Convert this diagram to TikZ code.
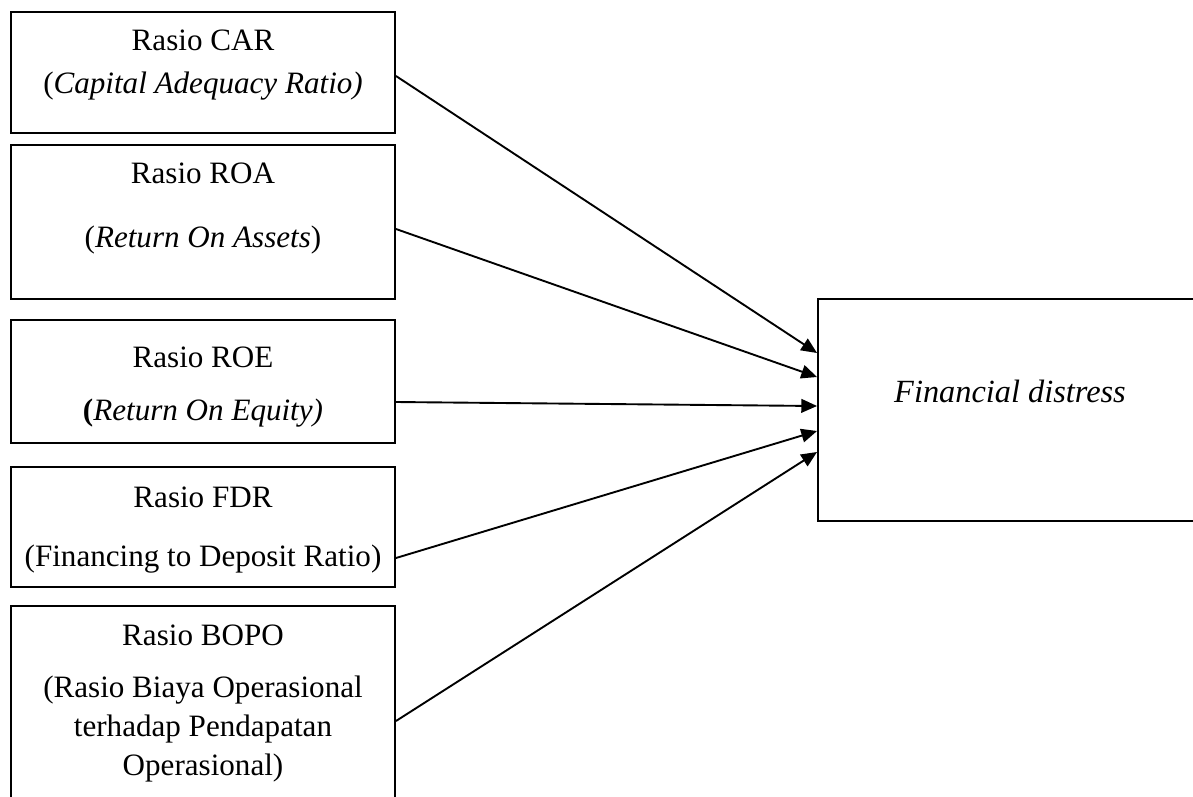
\documentclass[tikz,border=0pt]{standalone}
\usepackage{fontspec}
\setmainfont{Liberation Serif}
\usetikzlibrary{arrows.meta}

\tikzset{
    ratiobox/.style={draw, line width=0.9pt, minimum width=182.8pt, inner sep=0pt},
    lbl/.style={align=center, inner sep=0pt, font=\fontsize{14.8}{18.6}\selectfont},
    link/.style={line width=0.9pt, -{Triangle[length=7.5pt,width=6.5pt]}}
}

\begin{document}
\begin{tikzpicture}[x=0.476pt, y=-0.476pt]
    \clip (0,0) rectangle (1193,796);

    % independent variables
    \node[ratiobox, minimum height=57.6pt] (car) at (203,72.5) {};
    \node[lbl] (car-name) at (203,40) {Rasio CAR};
    \node[lbl] (car-full) at (203,86) {(\textit{Capital Adequacy Ratio)}};

    \node[ratiobox, minimum height=73.3pt] (roa) at (203,222) {};
    \node[lbl] (roa-name) at (203,173) {Rasio ROA};
    \node[lbl] (roa-full) at (203,240) {(\textit{Return On Assets})};

    \node[ratiobox, minimum height=58.5pt] (roe) at (203,381.5) {};
    \node[lbl] (roe-name) at (203,357) {Rasio ROE};
    \node[lbl] (roe-full) at (203,413) {\textbf{(}\textit{Return On Equity)}};

    \node[ratiobox, minimum height=57.1pt] (fdr) at (203,527) {};
    \node[lbl] (fdr-name) at (203,497) {Rasio FDR};
    \node[lbl] (fdr-full) at (203,559) {(Financing to Deposit Ratio)};

    \node[ratiobox, minimum height=106.6pt] (bopo) at (203,718) {};
    \node[lbl] (bopo-name) at (203,635) {Rasio BOPO};
    \node[lbl] (bopo-full) at (203,729) {(Rasio Biaya Operasional\\terhadap Pendapatan\\Operasional)};

    % dependent variable
    \node[ratiobox, minimum width=184.7pt, minimum height=105.7pt] (fd) at (1012,410) {};
    \node[lbl, font=\fontsize{15.4}{18.6}\selectfont] (fd-name) at (1010,391) {\textit{Financial distress}};

    \draw[link] (car.east |- 0,76) -- (fd.west |- 0,353);
    \draw[link] (roa.east |- 0,229) -- (fd.west |- 0,377);
    \draw[link] (roe.east |- 0,402) -- (fd.west |- 0,406);
    \draw[link] (fdr.east |- 0,558) -- (fd.west |- 0,431);
    \draw[link] (bopo.east |- 0,721) -- (fd.west |- 0,452);
\end{tikzpicture}
\end{document}
